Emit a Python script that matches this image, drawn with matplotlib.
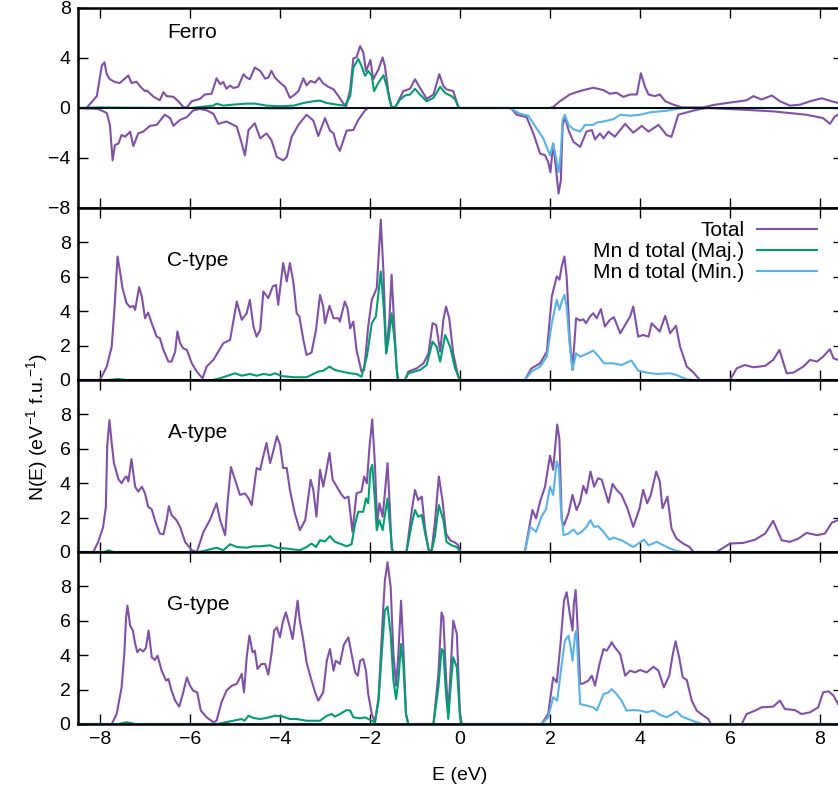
import numpy as np
import matplotlib
matplotlib.use('Agg')
import matplotlib.pyplot as plt

PURPLE = '#8150a8'
GREEN = '#009e73'
BLUE = '#56b4e9'

# density of states, points given as (E in eV, N(E))
ferro_total_up = [(-8.5, 0), (-8.3, 0), (-8.07, 0.95), (-7.96, 3.4), (-7.9, 3.65), (-7.85, 2.7), (-7.78, 2.3),
	(-7.67, 2.08), (-7.56, 2.0), (-7.37, 2.6), (-7.3, 2.0), (-7.19, 2.1), (-7.1, 1.7), (-7.0, 1.35), (-6.96, 1.4),
	(-6.81, 0.9), (-6.67, 0.62), (-6.59, 1.27), (-6.52, 0.95), (-6.37, 0.9), (-6.26, 0.54), (-6.15, 0.08),
	(-6.07, 0.05), (-5.96, 0.54), (-5.78, 0.73), (-5.67, 1.08), (-5.52, 1.14), (-5.41, 2.38), (-5.33, 1.9),
	(-5.26, 2.08), (-5.19, 1.54), (-5.11, 1.8), (-5.04, 1.6), (-4.93, 1.7), (-4.81, 2.7), (-4.74, 2.43),
	(-4.67, 2.3), (-4.56, 3.24), (-4.44, 2.97), (-4.33, 2.35), (-4.26, 2.43), (-4.19, 2.97), (-4.11, 2.43),
	(-4.0, 2.03), (-3.89, 1.7), (-3.78, 0.81), (-3.7, 1.0), (-3.59, 1.35), (-3.48, 2.38), (-3.41, 1.81),
	(-3.32, 2.16), (-3.22, 2.03), (-3.13, 2.43), (-3.04, 1.97), (-2.93, 1.7), (-2.81, 1.49), (-2.7, 0.95),
	(-2.59, 0.35), (-2.53, 0.14), (-2.44, 1.49), (-2.37, 3.97), (-2.3, 4.05), (-2.22, 4.95), (-2.15, 4.46),
	(-2.09, 2.97), (-2.04, 3.38), (-1.99, 3.84), (-1.93, 2.3), (-1.81, 3.1), (-1.72, 4.05), (-1.67, 3.38),
	(-1.59, 1.22), (-1.52, 0.08), (-1.44, 0.08), (-1.37, 0.54), (-1.26, 1.35), (-1.11, 1.54), (-1.0, 2.3),
	(-0.89, 1.62), (-0.74, 0.73), (-0.59, 1.08), (-0.46, 2.7), (-0.37, 1.76), (-0.3, 1.49), (-0.15, 1.35),
	(-0.04, 0.08), (0.0, 0), (2.0, 0), (2.07, 0.08), (2.22, 0.54), (2.44, 1.08), (2.59, 1.27), (2.74, 1.43),
	(2.96, 1.62), (3.19, 1.43), (3.33, 1.14), (3.48, 1.22), (3.63, 0.89), (3.78, 1.08), (3.93, 1.08),
	(4.02, 2.78), (4.11, 1.7), (4.19, 1.08), (4.33, 0.95), (4.44, 1.08), (4.56, 0.54), (4.74, 0.27),
	(4.93, 0.05), (5.41, 0.05), (5.63, 0.24), (5.93, 0.4), (6.22, 0.54), (6.37, 0.62), (6.52, 0.95),
	(6.7, 0.68), (6.93, 1.0), (7.11, 0.54), (7.33, 0.19), (7.56, 0.27), (7.78, 0.54), (8.04, 0.78),
	(8.26, 0.54), (8.4, 0.4), (8.5, 0.3)]

ferro_total_dn = [(-8.5, 0), (-8.04, -0.08), (-7.85, -0.4), (-7.78, -1.35), (-7.72, -4.19), (-7.67, -2.97),
	(-7.59, -2.84), (-7.52, -2.16), (-7.44, -2.3), (-7.33, -1.89), (-7.26, -3.05), (-7.15, -2.03),
	(-7.04, -1.89), (-6.89, -1.43), (-6.74, -1.35), (-6.56, -0.54), (-6.44, -0.81), (-6.37, -1.43),
	(-6.22, -0.95), (-6.07, -0.73), (-5.93, -0.19), (-5.78, -0.08), (-5.63, -0.19), (-5.48, -0.46),
	(-5.37, -1.27), (-5.19, -1.08), (-4.96, -1.49), (-4.85, -2.84), (-4.78, -3.78), (-4.7, -1.76),
	(-4.56, -1.22), (-4.44, -2.43), (-4.3, -2.03), (-4.19, -2.57), (-4.07, -3.92), (-3.93, -4.19),
	(-3.85, -3.92), (-3.74, -2.3), (-3.59, -1.35), (-3.41, -0.54), (-3.26, -1.0), (-3.15, -2.24),
	(-3.0, -0.81), (-2.89, -1.81), (-2.81, -2.03), (-2.74, -2.97), (-2.67, -3.43), (-2.59, -2.57),
	(-2.52, -1.81), (-2.37, -1.76), (-2.26, -0.95), (-2.11, -0.19), (-2.04, 0), (1.1, 0), (1.15, -0.08),
	(1.26, -0.54), (1.48, -0.73), (1.63, -2.03), (1.78, -3.65), (1.89, -3.78), (1.96, -4.32), (2.01, -5.14),
	(2.07, -2.84), (2.13, -4.73), (2.19, -6.84), (2.24, -5.81), (2.28, -1.49), (2.33, -0.68), (2.41, -1.76),
	(2.52, -2.7), (2.67, -3.11), (2.81, -1.89), (2.93, -1.76), (3.0, -2.51), (3.11, -2.03), (3.19, -2.43),
	(3.3, -1.89), (3.44, -2.3), (3.67, -1.27), (3.85, -1.97), (4.04, -1.43), (4.19, -1.89), (4.41, -1.35),
	(4.59, -2.16), (4.7, -2.3), (4.85, -0.54), (5.04, -0.35), (5.26, -0.14), (5.48, 0), (6.3, -0.14),
	(6.96, -0.27), (7.7, -0.54), (8.07, -0.81), (8.22, -1.27), (8.33, -0.68), (8.4, -0.54), (8.5, -0.5)]

ferro_mn_maj = [(-8.5, 0), (-8.0, 0.05), (-7.5, 0.03), (-6.0, 0.0), (-5.78, 0.08), (-5.48, 0.19), (-5.41, 0.35),
	(-5.26, 0.19), (-5.04, 0.27), (-4.74, 0.35), (-4.56, 0.35), (-4.3, 0.19), (-4.0, 0.14), (-3.7, 0.19),
	(-3.48, 0.4), (-3.26, 0.54), (-3.11, 0.59), (-2.96, 0.4), (-2.74, 0.27), (-2.56, 0.19), (-2.44, 0.95),
	(-2.37, 3.24), (-2.26, 3.92), (-2.19, 3.38), (-2.11, 2.57), (-2.04, 2.97), (-1.96, 2.57), (-1.91, 1.35),
	(-1.81, 2.03), (-1.7, 2.62), (-1.63, 1.76), (-1.56, 0.54), (-1.52, 0.05), (-1.44, 0.08), (-1.33, 0.68),
	(-1.22, 1.0), (-1.11, 1.08), (-1.0, 1.54), (-0.89, 1.08), (-0.74, 0.54), (-0.59, 0.81), (-0.44, 1.7),
	(-0.33, 1.2), (-0.19, 0.95), (-0.11, 0.7), (-0.04, 0.14), (0.0, 0), (8.5, 0)]

ferro_mn_min = [(-8.5, 0), (-4.5, 0), (-4.2, -0.05), (-3.8, -0.05), (-3.6, 0), (1.1, 0), (1.15, -0.08),
	(1.33, -0.46), (1.52, -0.62), (1.7, -1.62), (1.85, -2.43), (2.0, -3.78), (2.07, -2.84), (2.13, -3.92),
	(2.19, -5.14), (2.24, -3.65), (2.28, -0.95), (2.33, -0.54), (2.41, -1.35), (2.52, -1.7), (2.67, -1.89),
	(2.78, -1.35), (2.96, -1.35), (3.04, -1.16), (3.19, -1.08), (3.41, -0.89), (3.56, -0.54), (3.78, -0.62),
	(4.0, -0.54), (4.22, -0.35), (4.44, -0.27), (4.59, -0.22), (4.81, -0.08), (4.96, 0), (8.5, 0)]

c_total = [(-8.5, 0), (-8.0, 0), (-7.85, 0.78), (-7.74, 1.94), (-7.68, 4.08), (-7.61, 7.18), (-7.56, 6.4),
	(-7.5, 5.34), (-7.41, 4.47), (-7.33, 4.23), (-7.26, 4.31), (-7.22, 4.08), (-7.13, 5.4), (-7.07, 4.85),
	(-7.0, 3.59), (-6.93, 3.92), (-6.85, 3.3), (-6.74, 2.52), (-6.67, 2.43), (-6.59, 1.75), (-6.48, 1.07),
	(-6.41, 1.07), (-6.33, 1.65), (-6.28, 2.82), (-6.22, 2.14), (-6.15, 1.84), (-6.07, 1.75), (-5.96, 0.97),
	(-5.85, 0.49), (-5.72, 0.1), (-5.63, 0.78), (-5.48, 1.17), (-5.37, 1.65), (-5.26, 2.14), (-5.11, 2.33),
	(-4.96, 4.56), (-4.85, 3.5), (-4.74, 3.88), (-4.67, 4.66), (-4.59, 3.11), (-4.52, 2.52), (-4.44, 2.91),
	(-4.37, 5.15), (-4.26, 4.76), (-4.16, 5.44), (-4.09, 5.53), (-4.04, 4.37), (-3.93, 6.8), (-3.85, 5.73),
	(-3.78, 6.8), (-3.7, 5.63), (-3.63, 3.88), (-3.57, 3.69), (-3.48, 2.33), (-3.41, 1.46), (-3.3, 1.59),
	(-3.2, 2.91), (-3.11, 4.95), (-3.04, 4.27), (-3.0, 3.3), (-2.9, 4.31), (-2.81, 3.59), (-2.7, 3.59),
	(-2.67, 3.4), (-2.56, 4.56), (-2.5, 4.17), (-2.44, 3.0), (-2.37, 3.4), (-2.3, 1.75), (-2.19, 0.49),
	(-2.13, 0.58), (-2.04, 3.11), (-1.96, 4.66), (-1.85, 5.34), (-1.76, 9.32), (-1.7, 6.21), (-1.64, 1.55),
	(-1.57, 3.5), (-1.52, 6.12), (-1.47, 3.69), (-1.41, 0.68), (-1.37, 0), (-1.22, 0), (-1.15, 0.49),
	(-0.96, 0.68), (-0.81, 0.97), (-0.7, 1.55), (-0.61, 3.3), (-0.53, 3.2), (-0.44, 1.65), (-0.37, 3.5),
	(-0.31, 4.27), (-0.24, 3.59), (-0.15, 1.55), (-0.04, 0.19), (0.0, 0), (1.44, 0), (1.59, 0.68),
	(1.78, 0.97), (1.93, 1.65), (2.04, 4.85), (2.15, 6.02), (2.21, 5.83), (2.26, 6.6), (2.32, 7.18),
	(2.37, 6.02), (2.44, 2.33), (2.5, 0.58), (2.58, 3.59), (2.67, 3.46), (2.74, 3.53), (2.8, 3.3),
	(2.89, 3.69), (2.96, 3.88), (3.04, 3.59), (3.13, 4.12), (3.22, 3.11), (3.33, 3.5), (3.42, 3.65),
	(3.56, 2.72), (3.67, 3.2), (3.78, 3.69), (3.85, 4.27), (3.96, 2.52), (4.07, 2.62), (4.19, 2.52),
	(4.26, 3.3), (4.37, 3.0), (4.44, 2.82), (4.56, 3.73), (4.67, 2.72), (4.8, 3.15), (4.89, 1.94),
	(5.04, 0.78), (5.19, 0.43), (5.33, 0), (6.0, 0), (6.15, 0.68), (6.33, 0.87), (6.52, 0.74), (6.78, 0.82),
	(6.96, 1.17), (7.1, 1.75), (7.19, 0.97), (7.26, 0.39), (7.41, 0.43), (7.63, 0.78), (7.78, 1.17),
	(7.93, 1.07), (8.07, 1.36), (8.22, 1.79), (8.3, 1.26), (8.4, 1.17), (8.5, 1.3)]

c_mn_maj = [(-8.5, 0), (-7.8, 0), (-7.6, 0.06), (-7.4, 0), (-5.5, 0), (-5.33, 0.1), (-5.0, 0.39), (-4.85, 0.25),
	(-4.67, 0.35), (-4.52, 0.25), (-4.37, 0.35), (-4.22, 0.29), (-4.11, 0.39), (-3.96, 0.23), (-3.7, 0.16),
	(-3.41, 0.16), (-3.15, 0.49), (-3.04, 0.54), (-2.9, 0.78), (-2.78, 0.58), (-2.63, 0.49), (-2.44, 0.39),
	(-2.3, 0.35), (-2.19, 0.19), (-2.07, 1.36), (-1.96, 3.3), (-1.87, 3.69), (-1.76, 6.31), (-1.69, 4.08),
	(-1.64, 1.55), (-1.59, 2.33), (-1.52, 3.88), (-1.44, 1.94), (-1.39, 0.1), (-1.37, 0), (-1.22, 0),
	(-1.15, 0.39), (-0.89, 0.58), (-0.74, 0.87), (-0.61, 2.23), (-0.52, 1.94), (-0.44, 1.07), (-0.33, 2.62),
	(-0.22, 1.94), (-0.11, 0.68), (0.0, 0), (8.5, 0)]

c_mn_min = [(-8.5, 0), (1.44, 0), (1.59, 0.49), (1.78, 0.78), (1.93, 1.36), (2.04, 3.3), (2.15, 4.66),
	(2.21, 4.08), (2.26, 4.56), (2.32, 4.95), (2.37, 4.27), (2.44, 1.94), (2.5, 0.58), (2.58, 1.55),
	(2.67, 1.36), (2.81, 1.51), (2.96, 1.71), (3.07, 1.4), (3.2, 0.97), (3.41, 0.97), (3.59, 0.87),
	(3.81, 1.13), (3.96, 0.54), (4.15, 0.43), (4.37, 0.35), (4.67, 0.39), (4.81, 0.29), (5.04, 0.04),
	(5.19, 0), (8.5, 0)]

a_total = [(-8.5, 0), (-8.15, 0), (-8.04, 0.59), (-7.93, 1.46), (-7.87, 2.63), (-7.84, 6.15), (-7.79, 7.67),
	(-7.74, 6.34), (-7.69, 5.17), (-7.59, 4.23), (-7.52, 4.0), (-7.44, 4.35), (-7.41, 4.39), (-7.37, 4.1),
	(-7.3, 5.4), (-7.22, 3.8), (-7.15, 3.51), (-7.07, 3.8), (-7.0, 3.41), (-6.93, 2.63), (-6.85, 2.48),
	(-6.78, 1.85), (-6.67, 1.07), (-6.59, 1.03), (-6.52, 1.85), (-6.47, 2.67), (-6.41, 2.15), (-6.3, 1.85),
	(-6.22, 1.46), (-6.11, 0.59), (-5.96, 0.1), (-5.85, 0), (-5.7, 1.17), (-5.56, 1.85), (-5.41, 2.83),
	(-5.33, 1.85), (-5.22, 0.98), (-5.16, 3.02), (-5.09, 4.94), (-5.0, 4.2), (-4.89, 3.32), (-4.78, 3.41),
	(-4.7, 3.12), (-4.63, 2.73), (-4.52, 4.88), (-4.44, 4.78), (-4.39, 5.37), (-4.3, 6.34), (-4.22, 5.17),
	(-4.15, 5.85), (-4.07, 6.73), (-4.0, 6.24), (-3.93, 4.88), (-3.85, 4.88), (-3.78, 3.61), (-3.67, 2.24),
	(-3.56, 1.27), (-3.44, 1.85), (-3.32, 4.2), (-3.26, 3.61), (-3.19, 2.05), (-3.11, 4.78), (-3.04, 3.8),
	(-2.98, 4.59), (-2.9, 5.76), (-2.83, 4.2), (-2.74, 3.8), (-2.63, 3.32), (-2.56, 3.12), (-2.48, 3.22),
	(-2.44, 2.34), (-2.39, 1.17), (-2.3, 3.41), (-2.19, 3.51), (-2.13, 4.39), (-2.07, 4.0), (-2.01, 6.15),
	(-1.95, 7.71), (-1.89, 5.07), (-1.84, 1.66), (-1.79, 2.83), (-1.72, 2.05), (-1.67, 3.41), (-1.61, 5.17),
	(-1.56, 2.63), (-1.52, 0.2), (-1.48, 0), (-1.19, 0), (-1.07, 2.44), (-1.0, 3.61), (-0.93, 3.02),
	(-0.85, 3.22), (-0.78, 1.46), (-0.7, 0.1), (-0.63, 0.1), (-0.56, 1.66), (-0.47, 4.39), (-0.39, 3.02),
	(-0.31, 1.07), (-0.22, 0.68), (-0.11, 0.55), (-0.04, 0.4), (0.01, 0), (1.44, 0), (1.54, 1.46),
	(1.61, 2.44), (1.69, 1.95), (1.78, 2.93), (1.89, 3.8), (2.0, 5.6), (2.07, 4.78), (2.13, 6.54),
	(2.16, 7.41), (2.21, 6.54), (2.26, 1.85), (2.31, 1.56), (2.41, 2.24), (2.5, 3.32), (2.59, 2.44),
	(2.67, 2.93), (2.74, 3.84), (2.81, 3.41), (2.9, 4.68), (2.98, 3.8), (3.07, 4.29), (3.15, 4.2),
	(3.3, 2.87), (3.39, 3.96), (3.48, 3.61), (3.59, 3.32), (3.72, 2.54), (3.85, 1.46), (3.99, 2.54),
	(4.07, 3.61), (4.16, 2.83), (4.24, 3.32), (4.36, 4.68), (4.44, 4.1), (4.5, 2.54), (4.61, 3.22),
	(4.7, 1.37), (4.81, 0.78), (4.96, 0.49), (5.1, 0.29), (5.19, 0), (5.7, 0), (6.0, 0.49), (6.3, 0.53),
	(6.56, 0.72), (6.78, 1.07), (6.96, 1.81), (7.15, 0.68), (7.33, 0.59), (7.52, 0.78), (7.7, 1.11),
	(7.93, 0.98), (8.11, 1.07), (8.26, 1.7), (8.4, 1.85), (8.5, 1.9)]

a_mn_maj = [(-8.5, 0), (-7.9, 0), (-7.81, 0.1), (-7.7, 0), (-5.8, 0), (-5.7, 0.06), (-5.41, 0.25), (-5.26, 0.1),
	(-5.11, 0.45), (-4.96, 0.29), (-4.74, 0.25), (-4.59, 0.33), (-4.44, 0.33), (-4.22, 0.39), (-4.07, 0.25),
	(-3.85, 0.2), (-3.56, 0.1), (-3.41, 0.29), (-3.3, 0.49), (-3.2, 0.29), (-3.11, 0.68), (-3.0, 0.62),
	(-2.89, 0.92), (-2.78, 0.59), (-2.63, 0.45), (-2.52, 0.33), (-2.41, 0.45), (-2.33, 1.66), (-2.26, 2.34),
	(-2.15, 2.34), (-2.09, 3.12), (-2.04, 2.83), (-1.99, 4.78), (-1.95, 5.07), (-1.89, 3.02), (-1.85, 1.27),
	(-1.79, 1.85), (-1.72, 1.27), (-1.61, 3.12), (-1.56, 1.66), (-1.5, 0), (-1.19, 0), (-1.07, 1.66),
	(-1.0, 2.44), (-0.93, 2.05), (-0.85, 2.15), (-0.76, 0.88), (-0.68, 0), (-0.63, 0.06), (-0.56, 0.88),
	(-0.47, 2.73), (-0.37, 1.85), (-0.3, 0.59), (-0.19, 0.39), (-0.07, 0.29), (0.0, 0), (8.5, 0)]

a_mn_min = [(-8.5, 0), (1.44, 0), (1.56, 1.46), (1.69, 1.17), (1.81, 2.05), (1.91, 2.48), (2.0, 3.8),
	(2.07, 3.32), (2.15, 5.27), (2.2, 4.82), (2.24, 2.63), (2.3, 0.98), (2.41, 1.07), (2.52, 1.31),
	(2.61, 1.03), (2.7, 1.17), (2.81, 1.46), (2.9, 1.85), (2.98, 1.46), (3.07, 1.5), (3.19, 1.17),
	(3.32, 0.72), (3.41, 0.84), (3.59, 0.68), (3.85, 0.29), (4.09, 0.72), (4.19, 0.39), (4.37, 0.59),
	(4.52, 0.39), (4.67, 0.2), (4.81, 0.06), (4.96, 0), (8.5, 0)]

g_total = [(-8.5, 0), (-7.74, 0), (-7.63, 0.58), (-7.52, 2.13), (-7.46, 4.07), (-7.42, 6.2), (-7.39, 6.88),
	(-7.33, 5.72), (-7.27, 5.43), (-7.22, 4.69), (-7.17, 4.17), (-7.11, 4.36), (-7.04, 4.22), (-6.98, 4.42),
	(-6.92, 5.43), (-6.85, 3.88), (-6.78, 3.72), (-6.72, 3.97), (-6.63, 3.1), (-6.53, 2.52), (-6.48, 2.62),
	(-6.41, 1.94), (-6.33, 1.36), (-6.24, 1.01), (-6.16, 1.74), (-6.07, 2.71), (-6.0, 2.23), (-5.93, 1.94),
	(-5.84, 1.84), (-5.76, 0.78), (-5.63, 0.39), (-5.48, 0.1), (-5.41, 0.19), (-5.3, 1.26), (-5.19, 1.94),
	(-5.07, 2.23), (-4.96, 2.33), (-4.85, 2.91), (-4.8, 1.84), (-4.74, 3.88), (-4.68, 5.14), (-4.61, 4.17),
	(-4.56, 4.26), (-4.5, 3.2), (-4.41, 3.49), (-4.33, 3.49), (-4.26, 2.87), (-4.19, 4.07), (-4.13, 5.43),
	(-4.07, 5.62), (-4.0, 5.04), (-3.94, 5.91), (-3.87, 6.49), (-3.79, 5.72), (-3.72, 4.94), (-3.67, 5.91),
	(-3.61, 7.17), (-3.56, 6.01), (-3.48, 4.84), (-3.41, 3.59), (-3.33, 2.81), (-3.22, 1.84), (-3.15, 1.36),
	(-3.04, 1.84), (-2.96, 3.68), (-2.89, 4.36), (-2.81, 3.1), (-2.76, 3.68), (-2.67, 3.49), (-2.58, 4.61),
	(-2.48, 5.04), (-2.41, 4.07), (-2.33, 3.0), (-2.27, 2.81), (-2.22, 3.68), (-2.15, 3.78), (-2.09, 3.1),
	(-2.04, 1.74), (-1.96, 0.58), (-1.89, 0.1), (-1.81, 1.55), (-1.74, 5.04), (-1.67, 8.33), (-1.61, 9.4),
	(-1.54, 7.95), (-1.48, 4.07), (-1.42, 2.23), (-1.37, 4.07), (-1.31, 7.17), (-1.26, 4.46), (-1.2, 0.58),
	(-1.15, 0), (-0.59, 0), (-0.48, 2.91), (-0.41, 6.49), (-0.37, 6.2), (-0.31, 2.71), (-0.26, 0.58),
	(-0.21, 3.1), (-0.15, 6.01), (-0.07, 5.23), (0.0, 0.58), (0.04, 0), (1.81, 0), (1.96, 0.58),
	(2.04, 2.13), (2.07, 2.71), (2.15, 2.42), (2.24, 4.84), (2.31, 7.17), (2.37, 7.66), (2.44, 6.4),
	(2.5, 5.43), (2.53, 6.98), (2.57, 7.79), (2.61, 5.81), (2.67, 2.33), (2.74, 2.36), (2.85, 2.52),
	(2.93, 2.81), (3.0, 2.23), (3.1, 3.49), (3.19, 4.36), (3.26, 4.26), (3.33, 4.55), (3.37, 4.75),
	(3.44, 4.46), (3.56, 4.07), (3.67, 2.81), (3.78, 3.1), (3.89, 3.0), (4.0, 3.14), (4.15, 3.0),
	(4.3, 3.33), (4.41, 3.1), (4.53, 2.13), (4.65, 2.81), (4.73, 4.07), (4.79, 4.81), (4.87, 3.88),
	(4.95, 2.71), (5.04, 2.56), (5.15, 1.36), (5.26, 0.78), (5.41, 0.48), (5.52, 0.29), (5.57, 0),
	(6.26, 0), (6.37, 0.58), (6.56, 0.78), (6.7, 0.97), (6.96, 1.01), (7.11, 1.36), (7.22, 0.87),
	(7.44, 0.81), (7.59, 0.58), (7.78, 0.68), (7.96, 0.97), (8.07, 1.84), (8.19, 1.9), (8.3, 1.65),
	(8.4, 1.16), (8.5, 0.9)]

g_mn_maj = [(-8.5, 0), (-7.6, 0), (-7.41, 0.1), (-7.2, 0), (-5.4, 0), (-5.04, 0.19), (-4.85, 0.29), (-4.79, 0.19),
	(-4.7, 0.48), (-4.59, 0.35), (-4.44, 0.29), (-4.3, 0.35), (-4.11, 0.48), (-3.96, 0.45), (-3.78, 0.29),
	(-3.63, 0.29), (-3.41, 0.19), (-3.11, 0.19), (-2.96, 0.48), (-2.85, 0.58), (-2.78, 0.43), (-2.67, 0.58),
	(-2.52, 0.81), (-2.44, 0.78), (-2.37, 0.39), (-2.22, 0.33), (-2.11, 0.39), (-1.96, 0.19), (-1.89, 0.1),
	(-1.81, 1.36), (-1.74, 4.07), (-1.67, 6.59), (-1.61, 6.82), (-1.54, 5.23), (-1.48, 2.52), (-1.42, 1.45),
	(-1.37, 2.52), (-1.31, 4.65), (-1.26, 3.49), (-1.2, 0.58), (-1.15, 0), (-0.59, 0), (-0.48, 2.13),
	(-0.41, 4.36), (-0.37, 4.26), (-0.31, 1.74), (-0.26, 0.29), (-0.21, 2.13), (-0.15, 3.88), (-0.07, 3.29),
	(0.0, 0.39), (0.04, 0), (8.5, 0)]

g_mn_min = [(-8.5, 0), (1.81, 0), (1.96, 0.39), (2.07, 1.55), (2.16, 1.36), (2.26, 3.49), (2.33, 4.84),
	(2.41, 5.14), (2.46, 4.46), (2.5, 3.68), (2.56, 5.23), (2.59, 5.43), (2.63, 3.1), (2.67, 1.16),
	(2.81, 1.07), (2.96, 0.97), (3.04, 0.78), (3.19, 1.74), (3.3, 1.84), (3.37, 2.03), (3.48, 1.74),
	(3.59, 1.36), (3.7, 0.78), (3.85, 0.81), (4.0, 0.78), (4.15, 0.68), (4.3, 0.78), (4.44, 0.54),
	(4.59, 0.39), (4.7, 0.54), (4.81, 0.74), (4.93, 0.43), (5.07, 0.29), (5.26, 0.1), (5.41, 0), (8.5, 0)]

panel_names = ['Ferro', 'C-type', 'A-type', 'G-type']
legend_labels = ['Total', 'Mn d total (Maj.)', 'Mn d total (Min.)']
x_ticks = [-8, -6, -4, -2, 0, 2, 4, 6, 8]
ferro_y_ticks = [-8, -4, 0, 4, 8]
afm_y_ticks = [0, 2, 4, 6, 8]


def curve(ax, pts, color, label=None):
	e, n = np.array(pts).T
	return ax.plot(e, n, color=color, lw=1.5, label=label)[0]


def style_axes(ax, yticks):
	ax.set_xlim(-8.5, 8.5)
	ax.set_xticks(x_ticks)
	ax.set_yticks(yticks)
	ax.tick_params(direction='in', length=7, width=1, top=True, right=True,
		labelsize=14, pad=5)
	for s in ax.spines.values():
		s.set_linewidth(1.8)


def main():
	plt.rcParams['font.family'] = ['Liberation Sans', 'DejaVu Sans']
	plt.rcParams['mathtext.fontset'] = 'custom'
	plt.rcParams['mathtext.rm'] = 'Liberation Sans'
	plt.rcParams['mathtext.it'] = 'Liberation Sans:italic'

	fig = plt.figure(figsize=(8.38, 7.96), dpi=100)
	W, H = 838.0, 796.0
	left, width = 77.5 / W, 765.0 / W			# right edge runs just past the canvas
	# (top, bottom) of each panel in pixels
	rows = [(8, 208), (208, 380), (380, 552), (552, 724)]
	axes = []
	for top, bot in rows:
		axes.append(fig.add_axes([left, 1 - bot / H, width, (bot - top) / H]))

	# ferromagnetic: spin up above zero, spin down below
	ax = axes[0]
	curve(ax, ferro_total_up, PURPLE)
	curve(ax, ferro_total_dn, PURPLE)
	curve(ax, ferro_mn_maj, GREEN)
	curve(ax, ferro_mn_min, BLUE)
	ax.axhline(0, color='black', lw=1.3, zorder=3)
	ax.set_ylim(-8, 8)
	style_axes(ax, ferro_y_ticks)
	ax.text(-6.5, 6.0, panel_names[0], fontsize=15, va='center')

	afm = [(c_total, c_mn_maj, c_mn_min), (a_total, a_mn_maj, a_mn_min), (g_total, g_mn_maj, g_mn_min)]
	for i, (tot, maj, mn) in enumerate(afm):
		ax = axes[i + 1]
		h1 = curve(ax, tot, PURPLE, legend_labels[0])
		h2 = curve(ax, maj, GREEN, legend_labels[1])
		h3 = curve(ax, mn, BLUE, legend_labels[2])
		ax.set_ylim(0, 10)
		style_axes(ax, afm_y_ticks)
		ax.text(-6.5, 6.95, panel_names[i + 1], fontsize=15, va='center')
		if i == 0:
			ax.legend(handles=[h1, h2, h3], loc='upper right', bbox_to_anchor=(0.967, 0.925),
				markerfirst=False, frameon=False, fontsize=15, handlelength=2.9,
				handletextpad=0.6, labelspacing=0.1, borderpad=0, borderaxespad=0)

	for ax in axes[:-1]:
		ax.tick_params(labelbottom=False)

	fig.text(460 / W, 1 - 775 / H, 'E (eV)', ha='center', va='center', fontsize=14)
	fig.text(37 / W, 1 - 427 / H, 'N(E) (eV$^{-1}$ f.u.$^{-1}$)', ha='center', va='center',
		rotation=90, fontsize=14)

	fig.savefig('out.png', dpi=100)
	plt.close(fig)


if __name__ == '__main__':
	main()
